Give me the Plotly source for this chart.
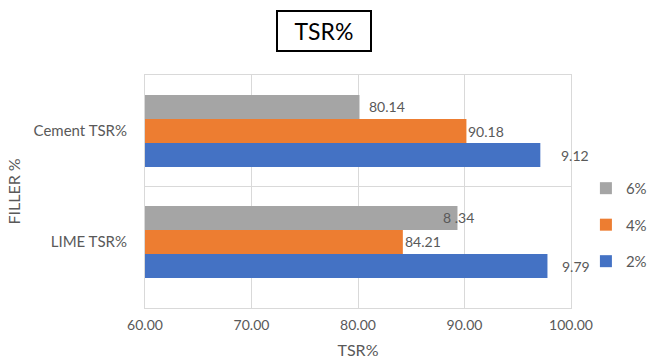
import plotly.graph_objects as go

# Categories (bottom to top on the y axis)
categories = ["LIME TSR%", "Cement TSR%"]
series_names = ["2%", "4%", "6%"]
series_colors = ["#4472C4", "#ED7D31", "#A5A5A5"]

# TSR% values per filler percentage, ordered like `categories`
values_2 = [97.79, 97.12]
values_4 = [84.21, 90.18]
values_6 = [89.34, 80.14]

# Data label text as printed next to each bar
labels_2 = ["9.79", "9.12"]
labels_4 = ["84.21", "90.18"]
labels_6 = ["8 .34", "80.14"]

x_ticks = [60, 70, 80, 90, 100]
x_tick_text = ["60.00", "70.00", "80.00", "90.00", "100.00"]

font_family = "Lato, 'Open Sans', sans-serif"
text_grey = "#595959"
grid_grey = "#D9D9D9"

fig = go.Figure()
all_values = [values_2, values_4, values_6]
all_labels = [labels_2, labels_4, labels_6]
legend_ranks = [3, 2, 1]
for name, color, vals, rank in zip(series_names, series_colors, all_values, legend_ranks):
    fig.add_trace(go.Bar(
        y=categories, x=vals, name=name, orientation="h",
        marker=dict(color=color, line=dict(width=0)),
        legendgroup=name, legendrank=rank,
    ))

# Horizontal offsets (px) of the data labels, per series and category
label_dx = [[13, 19], [0, 0], [-16, 8]]
bar_step = 24.5
for s, (vals, texts) in enumerate(zip(all_values, all_labels)):
    for c, (v, t) in enumerate(zip(vals, texts)):
        fig.add_annotation(
            x=v, y=categories[c], text=t, showarrow=False,
            xanchor="left", yanchor="middle",
            xshift=label_dx[s][c], yshift=(s - 1) * bar_step,
            font=dict(family=font_family, size=14, color=text_grey),
        )

# Title in a framed box
fig.add_annotation(
    x=0.42, y=1.0, xref="paper", yref="paper", yshift=44,
    text="TSR%", showarrow=False, xanchor="center", yanchor="middle",
    font=dict(family=font_family, size=23, color="#000000"),
    bordercolor="#000000", borderwidth=2, borderpad=4,
    width=84, height=30, bgcolor="#FFFFFF",
)

# Separator between the two category bands
fig.add_shape(type="line", xref="paper", yref="y", x0=0, x1=1, y0=0.5, y1=0.5,
              line=dict(color=grid_grey, width=1))

fig.update_layout(
    width=651, height=363,
    margin=dict(l=145, r=80, t=75, b=55, autoexpand=False),
    paper_bgcolor="#FFFFFF", plot_bgcolor="#FFFFFF",
    barmode="group", bargap=0.35, bargroupgap=0,
    font=dict(family=font_family, color=text_grey, size=13),
    showlegend=True,
    legend=dict(
        x=1.035, y=0.584, xanchor="left", yanchor="top",
        traceorder="grouped", tracegroupgap=14,
        font=dict(family=font_family, size=15, color=text_grey),
        itemwidth=30,
    ),
    xaxis=dict(
        range=[60, 100], tickvals=x_ticks, ticktext=x_tick_text,
        showgrid=True, gridcolor=grid_grey, gridwidth=1,
        showline=True, linecolor=grid_grey, mirror=True,
        zeroline=False, ticks="", ticklabelstandoff=4,
        tickfont=dict(family=font_family, size=14, color=text_grey),
        title=dict(text="TSR%", standoff=13,
                   font=dict(family=font_family, size=16, color=text_grey)),
    ),
    yaxis=dict(
        type="category", range=[-0.595, 1.505],
        showgrid=False, showline=True, linecolor=grid_grey, mirror=True,
        ticks="", ticklabelstandoff=14,
        tickfont=dict(family=font_family, size=15, color=text_grey),
        title=dict(text="FILLER %", standoff=8,
                   font=dict(family=font_family, size=16, color=text_grey)),
    ),
)

fig.write_html("out.html")
